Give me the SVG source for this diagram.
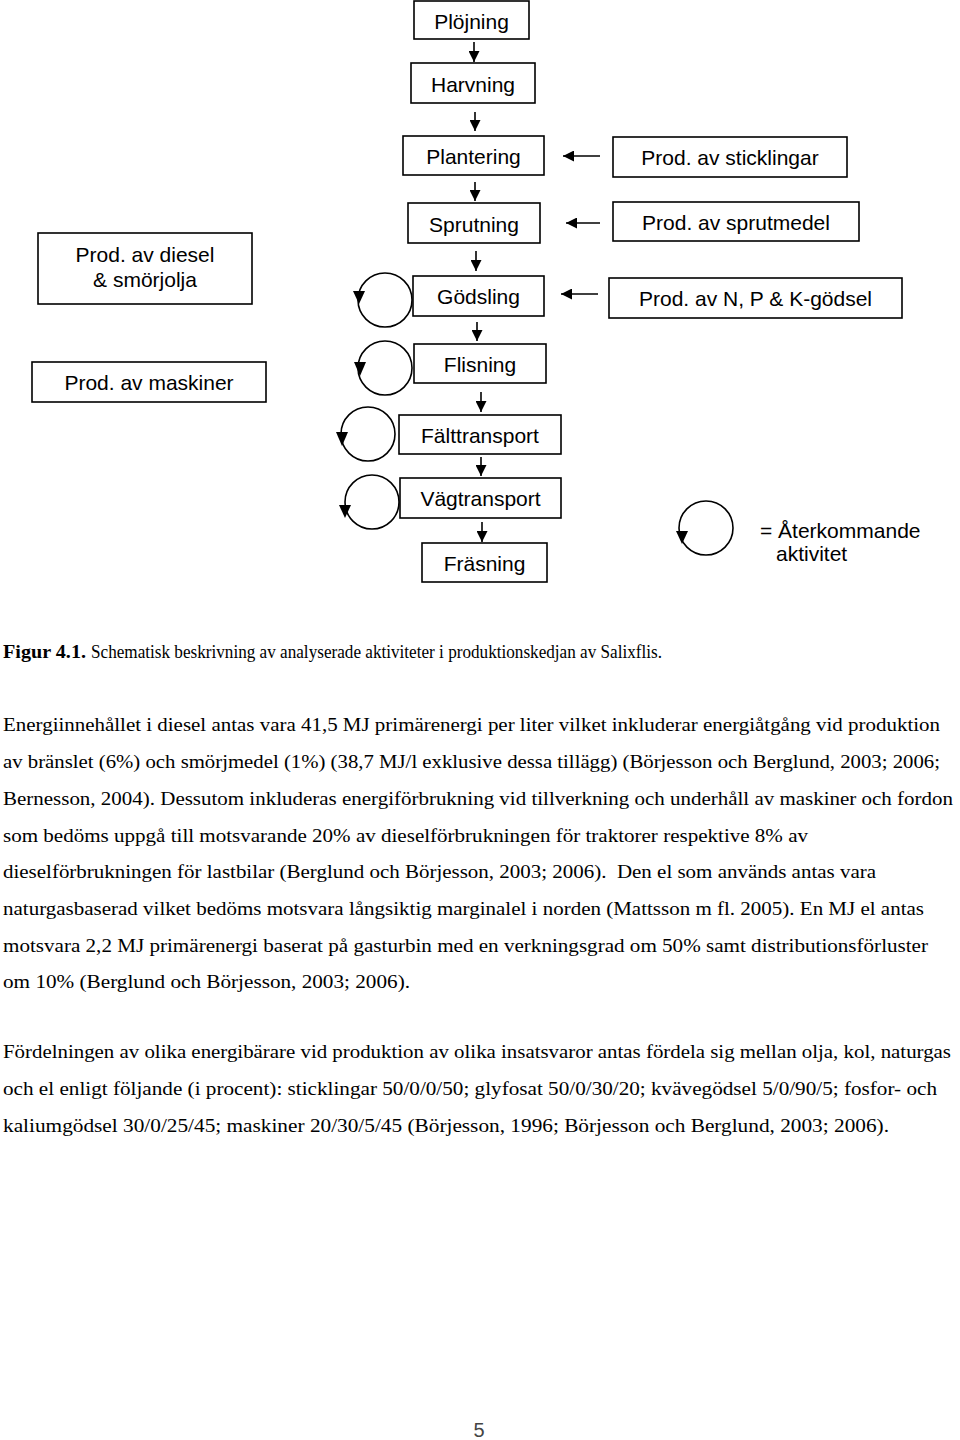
<svg xmlns="http://www.w3.org/2000/svg" width="960" height="1440" viewBox="0 0 960 1440">
<style>
.box{fill:#fff;stroke:#000;stroke-width:1.6}
.lbl{font-family:"Liberation Sans",Arial,sans-serif;font-size:21px;fill:#000}
.mid{text-anchor:middle}
.con{stroke:#000;stroke-width:1.6;fill:none}
.loop{stroke:#000;stroke-width:1.6;fill:none}
.head{fill:#000}
.body{font-family:"Liberation Serif","Times New Roman",serif;font-size:19px;fill:#000}
</style>
<defs>
<marker id="ah" viewBox="0 0 10 10" refX="10" refY="5" markerWidth="12" markerHeight="11" markerUnits="userSpaceOnUse" orient="auto"><path d="M0,0 L10,5 L0,10 z" fill="#000"/></marker>
</defs>
<rect width="960" height="1440" fill="#fff"/>

<g id="n-plojning"><rect class="box" x="414" y="1" width="115" height="38"/><text class="lbl mid" x="471.5" y="29">Plöjning</text></g>
<g id="n-harvning"><rect class="box" x="411" y="63" width="124" height="40"/><text class="lbl mid" x="473" y="92">Harvning</text></g>
<g id="n-plantering"><rect class="box" x="403" y="136" width="141" height="39"/><text class="lbl mid" x="473.5" y="164">Plantering</text></g>
<g id="n-sprutning"><rect class="box" x="408" y="203" width="132" height="40"/><text class="lbl mid" x="474" y="232">Sprutning</text></g>
<g id="n-godsling"><rect class="box" x="413" y="276" width="131" height="40"/><text class="lbl mid" x="478.5" y="304">Gödsling</text></g>
<g id="n-flisning"><rect class="box" x="414" y="344" width="132" height="39"/><text class="lbl mid" x="480" y="372">Flisning</text></g>
<g id="n-falttransport"><rect class="box" x="399" y="415" width="162" height="39"/><text class="lbl mid" x="480" y="443">Fälttransport</text></g>
<g id="n-vagtransport"><rect class="box" x="400" y="478" width="161" height="40"/><text class="lbl mid" x="480.5" y="506">Vägtransport</text></g>
<g id="n-frasning"><rect class="box" x="422" y="543" width="125" height="39"/><text class="lbl mid" x="484.5" y="571">Fräsning</text></g>

<g id="n-sticklingar"><rect class="box" x="613" y="137" width="234" height="40"/><text class="lbl mid" x="730" y="165">Prod. av sticklingar</text></g>
<g id="n-sprutmedel"><rect class="box" x="613" y="202" width="246" height="39"/><text class="lbl mid" x="736" y="230">Prod. av sprutmedel</text></g>
<g id="n-npk"><rect class="box" x="609" y="278" width="293" height="40"/><text class="lbl mid" x="755.5" y="306">Prod. av N, P &amp; K-gödsel</text></g>

<g id="n-diesel"><rect class="box" x="38" y="233" width="214" height="71"/><text class="lbl mid" x="145" y="262">Prod. av diesel</text><text class="lbl mid" x="145" y="287">&amp; smörjolja</text></g>
<g id="n-maskiner"><rect class="box" x="32" y="362" width="234" height="40"/><text class="lbl mid" x="149" y="390">Prod. av maskiner</text></g>

<g id="legend">
<circle class="loop" cx="706" cy="528" r="27"/>
<polygon class="head" points="676,531 688,531 682,544"/>
<text class="lbl" x="760" y="538">= Återkommande</text>
<text class="lbl" x="776" y="561">aktivitet</text>
</g>

<g id="connectors">
<line class="con" x1="474" y1="42" x2="474" y2="62" marker-end="url(#ah)"/>
<line class="con" x1="475" y1="112" x2="475" y2="131" marker-end="url(#ah)"/>
<line class="con" x1="475" y1="182" x2="475" y2="201" marker-end="url(#ah)"/>
<line class="con" x1="476" y1="251" x2="476" y2="271" marker-end="url(#ah)"/>
<line class="con" x1="477" y1="322" x2="477" y2="341" marker-end="url(#ah)"/>
<line class="con" x1="481" y1="392" x2="481" y2="412" marker-end="url(#ah)"/>
<line class="con" x1="481" y1="457" x2="481" y2="476" marker-end="url(#ah)"/>
<line class="con" x1="482" y1="522" x2="482" y2="542" marker-end="url(#ah)"/>
<line class="con" x1="600" y1="156" x2="563" y2="156" marker-end="url(#ah)"/>
<line class="con" x1="600" y1="223" x2="566" y2="223" marker-end="url(#ah)"/>
<line class="con" x1="598" y1="294" x2="561" y2="294" marker-end="url(#ah)"/>
<circle class="loop" cx="385" cy="300" r="27"/>
<polygon class="head" points="353,291 365,291 359,304"/>
<circle class="loop" cx="385" cy="368" r="27"/>
<polygon class="head" points="354,362 366,362 360,376"/>
<circle class="loop" cx="368" cy="434" r="27"/>
<polygon class="head" points="336,432 348,432 342,446"/>
<circle class="loop" cx="372" cy="502" r="27"/>
<polygon class="head" points="339,505 351,505 345,518"/>
</g>

<g id="caption">
<text class="body" x="3" y="658" font-weight="bold" textLength="83" lengthAdjust="spacingAndGlyphs">Figur 4.1.</text>
<text class="body" x="91" y="658" textLength="571" lengthAdjust="spacingAndGlyphs">Schematisk beskrivning av analyserade aktiviteter i produktionskedjan av Salixflis.</text>
</g>

<g id="paragraph1">
<text class="body" x="3" y="731" textLength="937" lengthAdjust="spacingAndGlyphs">Energiinnehållet i diesel antas vara 41,5 MJ primärenergi per liter vilket inkluderar energiåtgång vid produktion</text>
<text class="body" x="3" y="768" textLength="937" lengthAdjust="spacingAndGlyphs">av bränslet (6%) och smörjmedel (1%) (38,7 MJ/l exklusive dessa tillägg) (Börjesson och Berglund, 2003; 2006;</text>
<text class="body" x="3" y="805" textLength="950" lengthAdjust="spacingAndGlyphs">Bernesson, 2004). Dessutom inkluderas energiförbrukning vid tillverkning och underhåll av maskiner och fordon</text>
<text class="body" x="3" y="842" textLength="805" lengthAdjust="spacingAndGlyphs">som bedöms uppgå till motsvarande 20% av dieselförbrukningen för traktorer respektive 8% av</text>
<text class="body" x="3" y="878" textLength="873" lengthAdjust="spacingAndGlyphs" xml:space="preserve">dieselförbrukningen för lastbilar (Berglund och Börjesson, 2003; 2006).  Den el som används antas vara</text>
<text class="body" x="3" y="915" textLength="921" lengthAdjust="spacingAndGlyphs">naturgasbaserad vilket bedöms motsvara långsiktig marginalel i norden (Mattsson m fl. 2005). En MJ el antas</text>
<text class="body" x="3" y="952" textLength="925" lengthAdjust="spacingAndGlyphs">motsvara 2,2 MJ primärenergi baserat på gasturbin med en verkningsgrad om 50% samt distributionsförluster</text>
<text class="body" x="3" y="988" textLength="407" lengthAdjust="spacingAndGlyphs">om 10% (Berglund och Börjesson, 2003; 2006).</text>
</g>

<g id="paragraph2">
<text class="body" x="3" y="1058" textLength="948" lengthAdjust="spacingAndGlyphs">Fördelningen av olika energibärare vid produktion av olika insatsvaror antas fördela sig mellan olja, kol, naturgas</text>
<text class="body" x="3" y="1095" textLength="934" lengthAdjust="spacingAndGlyphs">och el enligt följande (i procent): sticklingar 50/0/0/50; glyfosat 50/0/30/20; kvävegödsel 5/0/90/5; fosfor- och</text>
<text class="body" x="3" y="1132" textLength="886" lengthAdjust="spacingAndGlyphs">kaliumgödsel 30/0/25/45; maskiner 20/30/5/45 (Börjesson, 1996; Börjesson och Berglund, 2003; 2006).</text>
</g>

<g id="page-number"><text class="lbl mid" x="479" y="1437" style="font-size:20px;fill:#444">5</text></g>
</svg>
